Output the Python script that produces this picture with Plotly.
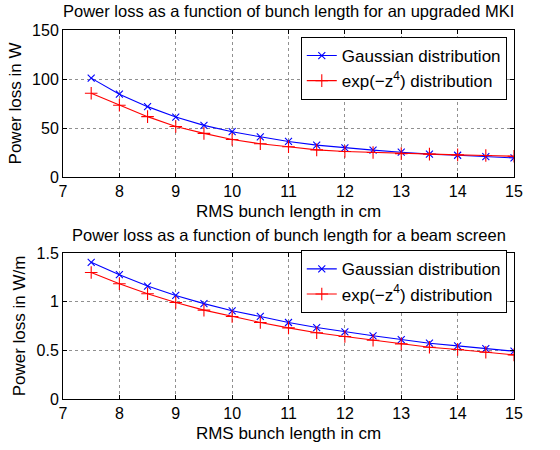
import plotly.graph_objects as go
from plotly.subplots import make_subplots

# RMS bunch length (cm)
bunch_length = [7.5, 8.0, 8.5, 9.0, 9.5, 10.0, 10.5, 11.0, 11.5, 12.0, 12.5, 13.0, 13.5, 14.0, 14.5, 15.0]

# Power loss in the upgraded MKI (W)
mki_gauss = [100.9, 84.5, 71.8, 61.2, 52.7, 46.2, 41.0, 36.3, 32.5, 29.8, 27.4, 25.3, 23.3, 22.2, 20.9, 19.5]
mki_expz4 = [85.5, 73.2, 61.6, 51.6, 44.5, 38.3, 33.9, 30.8, 27.7, 26.0, 25.0, 23.9, 23.3, 22.6, 21.9, 21.2]

# Power loss per metre in the beam screen (W/m)
bs_gauss = [1.404, 1.277, 1.160, 1.064, 0.980, 0.906, 0.848, 0.786, 0.734, 0.690, 0.649, 0.611, 0.573, 0.546, 0.518, 0.491]
bs_expz4 = [1.300, 1.184, 1.081, 0.992, 0.913, 0.848, 0.786, 0.731, 0.680, 0.642, 0.604, 0.566, 0.532, 0.508, 0.480, 0.453]

titles = ["Power loss as a function of bunch length for an upgraded MKI",
          "Power loss as a function of bunch length for a beam screen"]
y_titles = ["Power loss in W", "Power loss in W/m"]
x_title = "RMS bunch length in cm"
names = ["Gaussian distribution", "exp(\u2212z<sup>4</sup>) distribution"]

FONT = "Liberation Sans"
BLUE = "#0000ff"
RED = "#ff0000"

fig = make_subplots(rows=2, cols=1, vertical_spacing=0.2)

panels = [(mki_gauss, mki_expz4, "legend"), (bs_gauss, bs_expz4, "legend2")]
for i, (g, e, leg) in enumerate(panels, start=1):
    fig.add_trace(go.Scatter(
        x=bunch_length, y=g, name=names[0], mode="lines+markers", legend=leg,
        line=dict(color=BLUE, width=1.1),
        marker=dict(symbol="x-thin", size=7, line=dict(color=BLUE, width=1.1)),
    ), row=i, col=1)
    fig.add_trace(go.Scatter(
        x=bunch_length, y=e, name=names[1], mode="lines+markers", legend=leg,
        line=dict(color=RED, width=1.1),
        marker=dict(symbol="cross-thin", size=9, line=dict(color=RED, width=1.1)),
    ), row=i, col=1)

axis_common = dict(
    showline=True, linecolor="black", linewidth=1, mirror="allticks",
    ticks="inside", ticklen=4, tickcolor="black",
    showgrid=True, gridcolor="#909090", griddash="dot", gridwidth=1,
    zeroline=False, tickfont=dict(family=FONT, size=16, color="black"),
)

fig.update_xaxes(range=[7, 15], dtick=1, **axis_common)
fig.update_yaxes(ticklabelstandoff=0, **axis_common)
fig.update_yaxes(range=[0, 150], dtick=50, row=1, col=1)
fig.update_yaxes(range=[0, 1.5], dtick=0.5, row=2, col=1)

title_font = dict(family=FONT, size=16.5, color="black")
axis_title_font = dict(family=FONT, size=17, color="black")
fig.update_layout(
    xaxis=dict(domain=[0, 1], title=dict(text=x_title, font=axis_title_font, standoff=5)),
    xaxis2=dict(domain=[0, 1], title=dict(text=x_title, font=axis_title_font, standoff=5)),
    yaxis=dict(domain=[0.6016, 1.0], title=dict(text=y_titles[0], font=axis_title_font, standoff=6)),
    yaxis2=dict(domain=[0.0, 0.3957], title=dict(text=y_titles[1], font=axis_title_font, standoff=6)),
)

for txt, ypix in zip(titles, [11, 235]):
    fig.add_annotation(text=txt, xref="paper", yref="paper", x=0.5,
                       y=(399 - ypix) / 369.0, xanchor="center", yanchor="middle",
                       showarrow=False, font=title_font)

legend_style = dict(
    bgcolor="white", bordercolor="black", borderwidth=1,
    font=dict(family=FONT, size=17, color="black"),
    xanchor="right", yanchor="top", x=0.984, tracegroupgap=0,
    itemwidth=30,
)
fig.update_layout(
    legend=dict(y=0.981, **legend_style),
    legend2=dict(y=0.403, **legend_style),
    showlegend=True,
    width=560, height=450,
    margin=dict(l=63, r=46, t=30, b=51),
    plot_bgcolor="white", paper_bgcolor="white",
    font=dict(family=FONT, color="black"),
)

fig.write_html("out.html")
